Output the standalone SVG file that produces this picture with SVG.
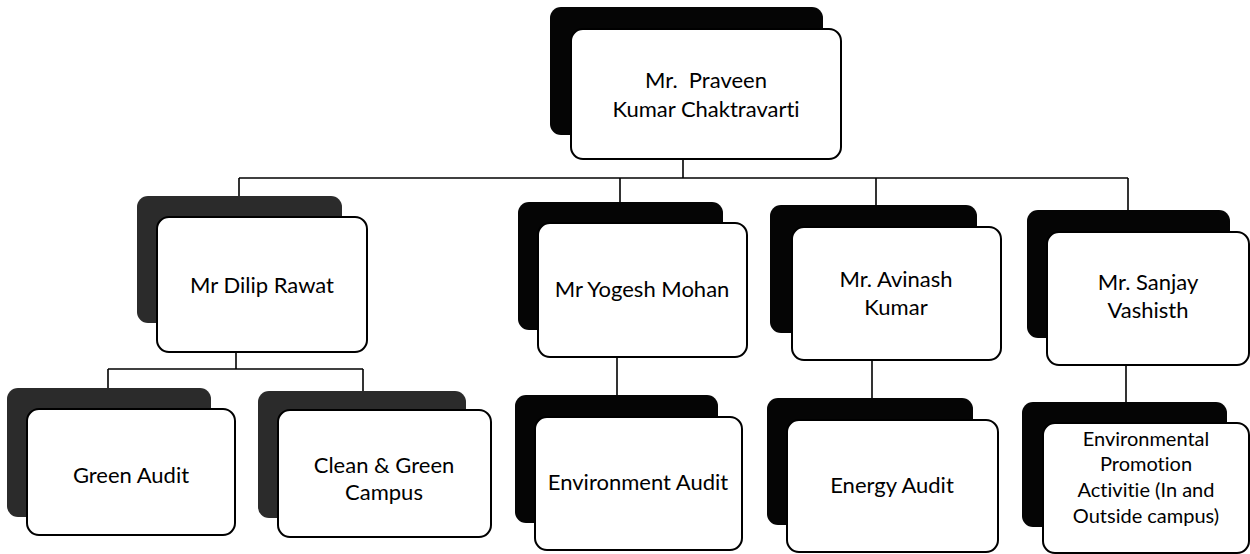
<svg xmlns="http://www.w3.org/2000/svg" width="1250" height="554" viewBox="0 0 1250 554">
<style>
.back{fill:#050505;stroke:none}
.grey{fill:#2b2b2b;stroke:none}
.front{fill:#fff;stroke:#000;stroke-width:2}
.lbl{font-family:Lato,"Liberation Sans",sans-serif;font-size:22px;fill:#000;text-anchor:middle;font-variant-ligatures:none;white-space:pre}
.sm{font-size:20px}
.conn line{stroke:#000;stroke-width:1.6}
</style>
<rect width="1250" height="554" fill="#fff"/>
<g class="conn" id="connectors">
<line x1="683" y1="159" x2="683" y2="178"/>
<line x1="239" y1="178" x2="1128" y2="178"/>
<line x1="239" y1="178" x2="239" y2="197"/>
<line x1="620" y1="178" x2="620" y2="203"/>
<line x1="876" y1="178" x2="876" y2="206"/>
<line x1="1128" y1="178" x2="1128" y2="211"/>
<line x1="236" y1="352" x2="236" y2="369"/>
<line x1="108" y1="369" x2="363" y2="369"/>
<line x1="108" y1="369" x2="108" y2="389"/>
<line x1="363" y1="369" x2="363" y2="392"/>
<line x1="617" y1="357" x2="617" y2="396"/>
<line x1="872" y1="360" x2="872" y2="399"/>
<line x1="1126" y1="365" x2="1126" y2="403"/>
</g>
<g id="n-praveen">
<rect class="back" x="550" y="7" width="273" height="128" rx="11"/>
<rect class="front" x="571" y="29" width="270" height="130" rx="12"/>
<text class="lbl" x="706" y="88" xml:space="preserve">Mr.  Praveen</text>
<text class="lbl" x="706" y="117">Kumar Chaktravarti</text>
</g>
<g id="n-dilip">
<rect class="grey" x="137" y="196" width="205" height="127" rx="11"/>
<rect class="front" x="157" y="217" width="210" height="135" rx="12"/>
<text class="lbl" x="262" y="293">Mr Dilip Rawat</text>
</g>
<g id="n-yogesh">
<rect class="back" x="518" y="202" width="205" height="128" rx="11"/>
<rect class="front" x="538" y="223" width="209" height="134" rx="12"/>
<text class="lbl" x="642" y="297">Mr Yogesh Mohan</text>
</g>
<g id="n-avinash">
<rect class="back" x="770" y="205" width="207" height="128" rx="11"/>
<rect class="front" x="792" y="227" width="209" height="133" rx="12"/>
<text class="lbl" x="896" y="287">Mr. Avinash</text>
<text class="lbl" x="896" y="315">Kumar</text>
</g>
<g id="n-sanjay">
<rect class="back" x="1027" y="210" width="203" height="128" rx="11"/>
<rect class="front" x="1047" y="232" width="202" height="133" rx="12"/>
<text class="lbl" x="1148" y="290">Mr. Sanjay</text>
<text class="lbl" x="1148" y="318">Vashisth</text>
</g>
<g id="n-green-audit">
<rect class="grey" x="7" y="388" width="204" height="129" rx="11"/>
<rect class="front" x="27" y="409" width="208" height="126" rx="12"/>
<text class="lbl" x="131" y="483">Green Audit</text>
</g>
<g id="n-clean-green">
<rect class="grey" x="258" y="391" width="208" height="127" rx="11"/>
<rect class="front" x="278" y="410" width="213" height="127" rx="12"/>
<text class="lbl" x="384" y="473">Clean &amp; Green</text>
<text class="lbl" x="384" y="500">Campus</text>
</g>
<g id="n-environment-audit">
<rect class="back" x="515" y="395" width="203" height="128" rx="11"/>
<rect class="front" x="535" y="417" width="207" height="133" rx="12"/>
<text class="lbl" x="638" y="490">Environment Audit</text>
</g>
<g id="n-energy-audit">
<rect class="back" x="767" y="398" width="206" height="127" rx="11"/>
<rect class="front" x="787" y="420" width="211" height="132" rx="12"/>
<text class="lbl" x="892" y="493">Energy Audit</text>
</g>
<g id="n-promotion">
<rect class="back" x="1022" y="402" width="205" height="125" rx="11"/>
<rect class="front" x="1043" y="423" width="206" height="130" rx="12"/>
<text class="lbl sm" x="1146" y="446">Environmental</text>
<text class="lbl sm" x="1146" y="471">Promotion</text>
<text class="lbl sm" x="1146" y="497">Activitie (In and</text>
<text class="lbl sm" x="1146" y="523">Outside campus)</text>
</g>
</svg>
